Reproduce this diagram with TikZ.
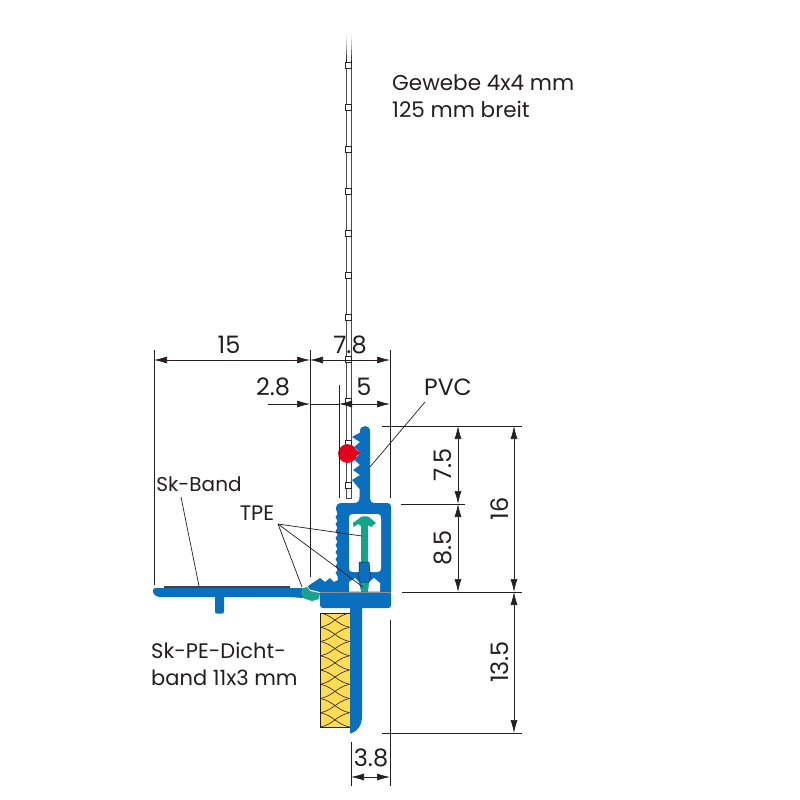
\documentclass[tikz,border=0pt]{standalone}
\usepackage{fontspec}
\setmainfont{Poppins}
\usetikzlibrary{arrows.meta}
\definecolor{pblue}{HTML}{0A6FBE}
\definecolor{pgreen}{HTML}{12A58C}
\definecolor{pyellow}{HTML}{FFDC55}
\definecolor{pred}{HTML}{E2001A}
\definecolor{ink}{HTML}{231F20}
\tikzset{
  x=1pt,y=-1pt,
  lab/.style={font=\fontsize{21.5}{27}\selectfont,text=ink,inner sep=0pt,align=left},
  num/.style={font=\fontsize{24}{27}\selectfont,text=ink,inner sep=0pt},
  extl/.style={draw=ink,line width=0.7pt},
  dimn/.style={draw=ink,line width=0.7pt,{Latex[length=13pt,width=7pt]}-{Latex[length=13pt,width=7pt]}},
  dimr/.style={draw=ink,line width=0.7pt,-{Latex[length=13pt,width=7pt]}},
  leader/.style={draw=ink,line width=0.7pt},
  prof/.style={fill=pblue,draw=none},
  tpe/.style={fill=pgreen,draw=none},
}
\begin{document}
\begin{tikzpicture}
\useasboundingbox (0,0) rectangle (800,800);
\fill[white] (0,0) rectangle (800,800);
% fabric
\foreach \yy/\gg in {35/8,40/20,45/35,50/55,55/75,60/90}{
  \draw[black!\gg,line width=0.8pt] (346,\yy) -- ++(0,5.2) (351,\yy) -- ++(0,5.2);
}
\draw[black!70,line width=1pt] (346,64) -- (346,498) -- (351,498) -- (351,64);
\foreach \yy in {62,104,...,482}{
  \draw[black!85,fill=white,line width=0.9pt] (345,\yy) rectangle ++(6.5,6.5);
}
% red seal
\fill[pred] (347.5,453.5) circle (9.4);
\fill[pred] (350,446) -- (361,453) -- (350,460) -- cycle;
% extension lines
\coordinate (e15t) at (154,350); \coordinate (e15b) at (154,585);
\coordinate (e0t) at (310,350); \coordinate (e0b) at (310,577);
\coordinate (e5t) at (390,350); \coordinate (e5b) at (390,498);
\coordinate (e2t) at (339,385); \coordinate (e2b) at (339,498);
\coordinate (e38lt) at (351,742); \coordinate (e38lb) at (351,786);
\coordinate (e38rt) at (390,620); \coordinate (e38rb) at (390,786);
\coordinate (h1l) at (382,426); \coordinate (h1r) at (522,426);
\coordinate (h2l) at (401,504); \coordinate (h2r) at (465,504);
\coordinate (h3l) at (402,592); \coordinate (h3r) at (522,592);
\coordinate (h4l) at (382,733); \coordinate (h4r) at (522,733);
\foreach \a/\b in {e15t/e15b,e0t/e0b,e5t/e5b,e2t/e2b,e38lt/e38lb,e38rt/e38rb,h1l/h1r,h2l/h2r,h3l/h3r,h4l/h4r}{
  \draw[extl] (\a) -- (\b);
}
% insulation
\draw[fill=pyellow,draw=ink,line width=0.9pt] (320,613) rectangle (350,727);
\foreach \k in {0,...,7}{
  \pgfmathsetmacro{\ya}{613+\k*14.25}
  \pgfmathsetmacro{\yb}{\ya+14.25}
  \draw[ink,line width=0.6pt] (320.5,\ya) .. controls (334,\ya+3) and (336,\yb-3) .. (349.5,\yb);
  \draw[ink,line width=0.6pt] (349.5,\ya) .. controls (336,\ya+3) and (334,\yb-3) .. (320.5,\yb);
}
% band strip
\fill[ink!85] (164,586) rectangle (290,588.6);
\path[prof] (156,588) -- (302,588) -- (303,598) .. controls (296,597.5) and (292,597) .. (285,597)
  -- (224,597) -- (224,611) .. controls (224,613.5) and (223,613.5) .. (222,613.5) -- (217,613.5)
  .. controls (215.5,613.5) and (215,613) .. (215,611) -- (215,597) -- (160,597)
  .. controls (155,597) and (152.5,593) .. (153,590) .. controls (153.3,588.5) and (154.5,588) .. (156,588) -- cycle;
% lower profile
\path[prof] (320,593) .. controls (345,592.6) and (365,592.6) .. (391,593)
  -- (391,605) .. controls (391,607.5) and (390,608) .. (388,608) -- (362,608) -- (362,716)
  .. controls (362,725) and (358,731) .. (351,733.5) -- (350,733) -- (350,608) -- (323,608)
  .. controls (321,608) and (320,607) .. (320,605) -- cycle;
% upper profile
\path[prof] (360,431) .. controls (360,424.5) and (370,424.5) .. (370,431) -- (370,496)
  .. controls (370,501) and (371,503) .. (375,503) -- (387,503) .. controls (390,503) and (391,504) .. (391,507)
  -- (391,592.3) -- (320,592.3) .. controls (316,590.5) and (313,590.5) .. (311,590) .. controls (309,589.5) and (308,588) .. (308,586)
  -- (320,578) -- (325,582) -- (330,578) -- (334,582) -- (338,580) -- (337.5,576)
  \foreach \yy in {570,563,...,514}{ -- (335.5,\yy+3) -- (337.5,\yy) }
  -- (336,509) .. controls (336,505) and (338,503) .. (342,503) -- (354,503)
  .. controls (358,503) and (359.5,501) .. (359.5,497) -- (359.5,489)
  -- (352,480) -- (360,475) -- (353,470) -- (360,465) -- (354,459.5) -- (360.5,453)
  -- (354,447) -- (360,442) -- (352,437) -- (360,432.5) -- cycle;
% windows
\path[fill=white] (353,514) -- (377,514) .. controls (380,514) and (381,515) .. (381,518)
  -- (381,568) .. controls (381,571) and (380,572) .. (377,572) -- (371,572) -- (358,572) -- (353,572)
  .. controls (350,572) and (349,571) .. (349,568) -- (349,518) .. controls (349,515) and (350,514) .. (353,514) -- cycle;
\path[fill=white] (349,591.5) -- (349,582) -- (355,578) -- (359,582) -- (361,591.5) -- cycle;
\path[fill=white] (368,591.5) -- (369,582) -- (374,578) -- (380,583) -- (380,591.5) -- cycle;
% TPE parts
\path[tpe] (302,588.5) -- (307,587) -- (310,591) -- (320,593) -- (319,599) -- (312,601) -- (303,598) -- cycle;
\draw[black!50,line width=0.5pt] (306,591) -- (319,593.5);
\path[tpe] (361,591.5) -- (361,526) -- (358,524) -- (353.5,527) -- (353,523) -- (361,517) .. controls (362,516) and (368,516) .. (369,517)
  -- (376,523) -- (371,527) -- (368,525) -- (368,591.5) -- cycle;
% clip connector
\path[fill=pblue,draw=black!60!pblue,line width=0.5pt] (359,562) -- (369,562) -- (370,572) -- (371,574) -- (369,582) -- (360,582) -- (358,574) -- (359,572) -- cycle;
\draw[black!50,line width=0.5pt] (320,592.6) .. controls (345,592.2) and (365,592.2) .. (391,592.6);
% dimensions
\coordinate (d15a) at (154,360); \coordinate (d15b) at (310,360); \coordinate (d78b) at (390,360);
\draw[dimn] (d15a) -- (d15b);
\draw[dimn] (d15b) -- (d78b);
\coordinate (d28a) at (268,404); \coordinate (d28b) at (310,404); \coordinate (d5a) at (339,404); \coordinate (d5b) at (390,404);
\draw[dimr] (d28a) -- (d28b);
\draw[dimn] (d5a) -- (d5b);
\draw[extl] (d28b) -- (d5a);
\coordinate (v1) at (458,426); \coordinate (v2) at (458,504); \coordinate (v3) at (458,592);
\coordinate (w1) at (514,426); \coordinate (w2) at (514,592); \coordinate (w3) at (514,733);
\coordinate (b1) at (351,777); \coordinate (b2) at (390,777);
\draw[dimn] (v1) -- (v2);
\draw[dimn] (v2) -- (v3);
\draw[dimn] (w1) -- (w2);
\draw[dimn] (w2) -- (w3);
\draw[dimn] (b1) -- (b2);
% labels
\node[lab,anchor=west] (gew) at (392,96) {Gewebe 4x4 mm\\125 mm breit};
\node[num] (l15) at (229,345) {15};
\node[num] (l78) at (350,345) {7.8};
\node[num] (l28) at (273,387) {2.8};
\node[num] (l5) at (364,387) {5};
\node[num,font=\fontsize{23.5}{27}\selectfont] (pvc) at (448,387) {PVC};
\node[lab,font=\fontsize{20}{27}\selectfont] (skb) at (199,484) {Sk-Band};
\node[lab,font=\fontsize{21}{27}\selectfont] (tpel) at (257,513) {TPE};
\node[lab,anchor=west,font=\fontsize{21}{27}\selectfont] (skpe) at (151,664) {Sk-PE-Dicht-\\band 11x3 mm};
\node[num,rotate=90] (l75) at (443,465) {7.5};
\node[num,rotate=90] (l85) at (443,548) {8.5};
\node[num,rotate=90] (l16) at (500,509) {16};
\node[num,rotate=90] (l135) at (500,662) {13.5};
\node[num] (l38) at (371,758) {3.8};
% leaders
\coordinate (pvcs) at (425,402); \coordinate (pvce) at (370,467);
\coordinate (sks) at (181,497); \coordinate (ske) at (199,586);
\coordinate (ts) at (278,524); \coordinate (t1) at (362,536); \coordinate (t2) at (363,587); \coordinate (t3) at (302,587);
\draw[leader] (pvcs) -- (pvce);
\draw[leader] (sks) -- (ske);
\draw[leader] (ts) -- (t1);
\draw[leader] (ts) -- (t2);
\draw[leader] (ts) -- (t3);
\end{tikzpicture}
\end{document}
